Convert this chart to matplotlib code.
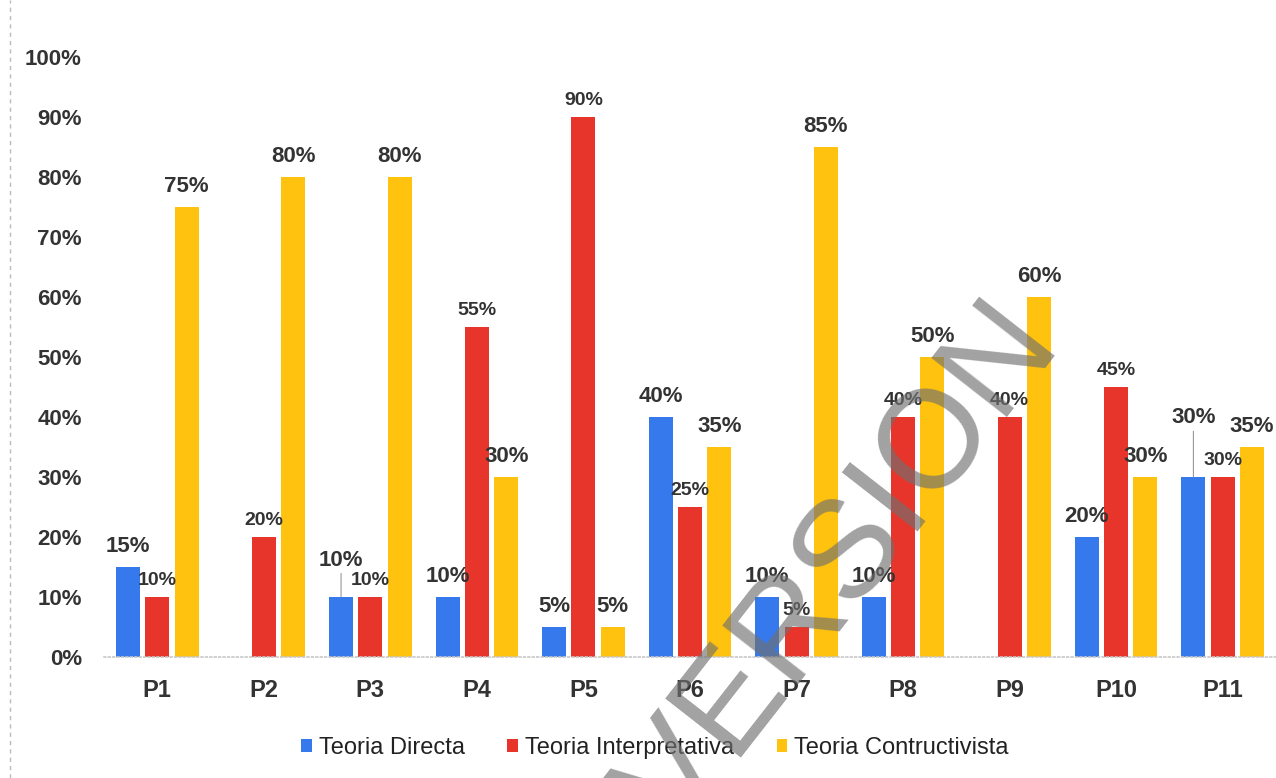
import matplotlib
matplotlib.use("Agg")
import matplotlib.pyplot as plt
import numpy as np
from matplotlib.lines import Line2D

# Data
categories = ["P1", "P2", "P3", "P4", "P5", "P6", "P7", "P8", "P9", "P10", "P11"]
directa = [15, 0, 10, 10, 5, 40, 10, 10, 0, 20, 30]
interpretativa = [10, 20, 10, 55, 90, 25, 5, 40, 40, 45, 30]
constructivista = [75, 80, 80, 30, 5, 35, 85, 50, 60, 30, 35]
series_names = ["Teoria Directa", "Teoria Interpretativa", "Teoria Contructivista"]

plt.rcParams["font.family"] = ["Liberation Sans", "DejaVu Sans"]

colors = ["#3579EC", "#E8352B", "#FFC20E"]
text_col = "#333333"

fig = plt.figure(figsize=(12.76, 7.78), dpi=100)
ax = fig.add_axes([0.0815, 0.1555, 0.9185, 0.7712])

x = np.arange(len(categories))
width = 0.225
offset = 0.275
all_series = [directa, interpretativa, constructivista]

for i, (vals, name, col) in enumerate(zip(all_series, series_names, colors)):
    pos = x + (i - 1) * offset
    ax.bar(pos, vals, width, color=col, label=name, zorder=2)
    for j, (p, v) in enumerate(zip(pos, vals)):
        if v == 0:
            continue
        fs = 14 if i == 1 else 16
        dy = 6 if i == 1 else 7
        arrow = None
        # labels lifted with a small leader line
        if i == 0 and categories[j] in ("P3", "P11"):
            dy = 19 if categories[j] == "P3" else 35
            arrow = dict(arrowstyle="-", color="#999999", lw=0.8, shrinkA=0, shrinkB=0)
        ax.annotate(f"{v}%", (p, v), xytext=(0, dy), textcoords="offset points",
                    ha="center", va="bottom", fontsize=fs, fontweight="bold",
                    color=text_col, arrowprops=arrow)

ax.set_xlim(-0.5, len(categories) - 0.5)
ax.set_ylim(0, 100)
ax.set_yticks(np.arange(0, 101, 10))
ax.set_yticklabels([f"{t}%" for t in range(0, 101, 10)])
ax.set_xticks(x)
ax.set_xticklabels(categories)
ax.tick_params(axis="both", length=0, labelcolor=text_col)
ax.tick_params(axis="y", pad=16, labelsize=16)
ax.tick_params(axis="x", pad=16, labelsize=17)
for lab in ax.get_xticklabels() + ax.get_yticklabels():
    lab.set_fontweight("bold")

for s in ["top", "right", "left"]:
    ax.spines[s].set_visible(False)
ax.spines["bottom"].set_color("#c8c8c8")
ax.spines["bottom"].set_linestyle(":")
ax.spines["bottom"].set_linewidth(1.2)

ax.legend(loc="center", bbox_to_anchor=(0.470, -0.152), ncol=3, frameon=False,
          fontsize=17, handlelength=0.45, handleheight=0.45, handletextpad=0.3,
          columnspacing=1.8, labelcolor="#222222")

# dashed border on the left edge
fig.add_artist(Line2D([0.008, 0.008], [0, 1], transform=fig.transFigure,
                      color="#bbbbbb", lw=1, linestyle=(0, (3, 3))))

# watermark
fig.text(0.660, 0.267, "VERSION", rotation=52, fontsize=100, color="#707070",
         alpha=0.65, ha="center", va="center", rotation_mode="anchor", zorder=10)

fig.savefig("out.png", dpi=100)
